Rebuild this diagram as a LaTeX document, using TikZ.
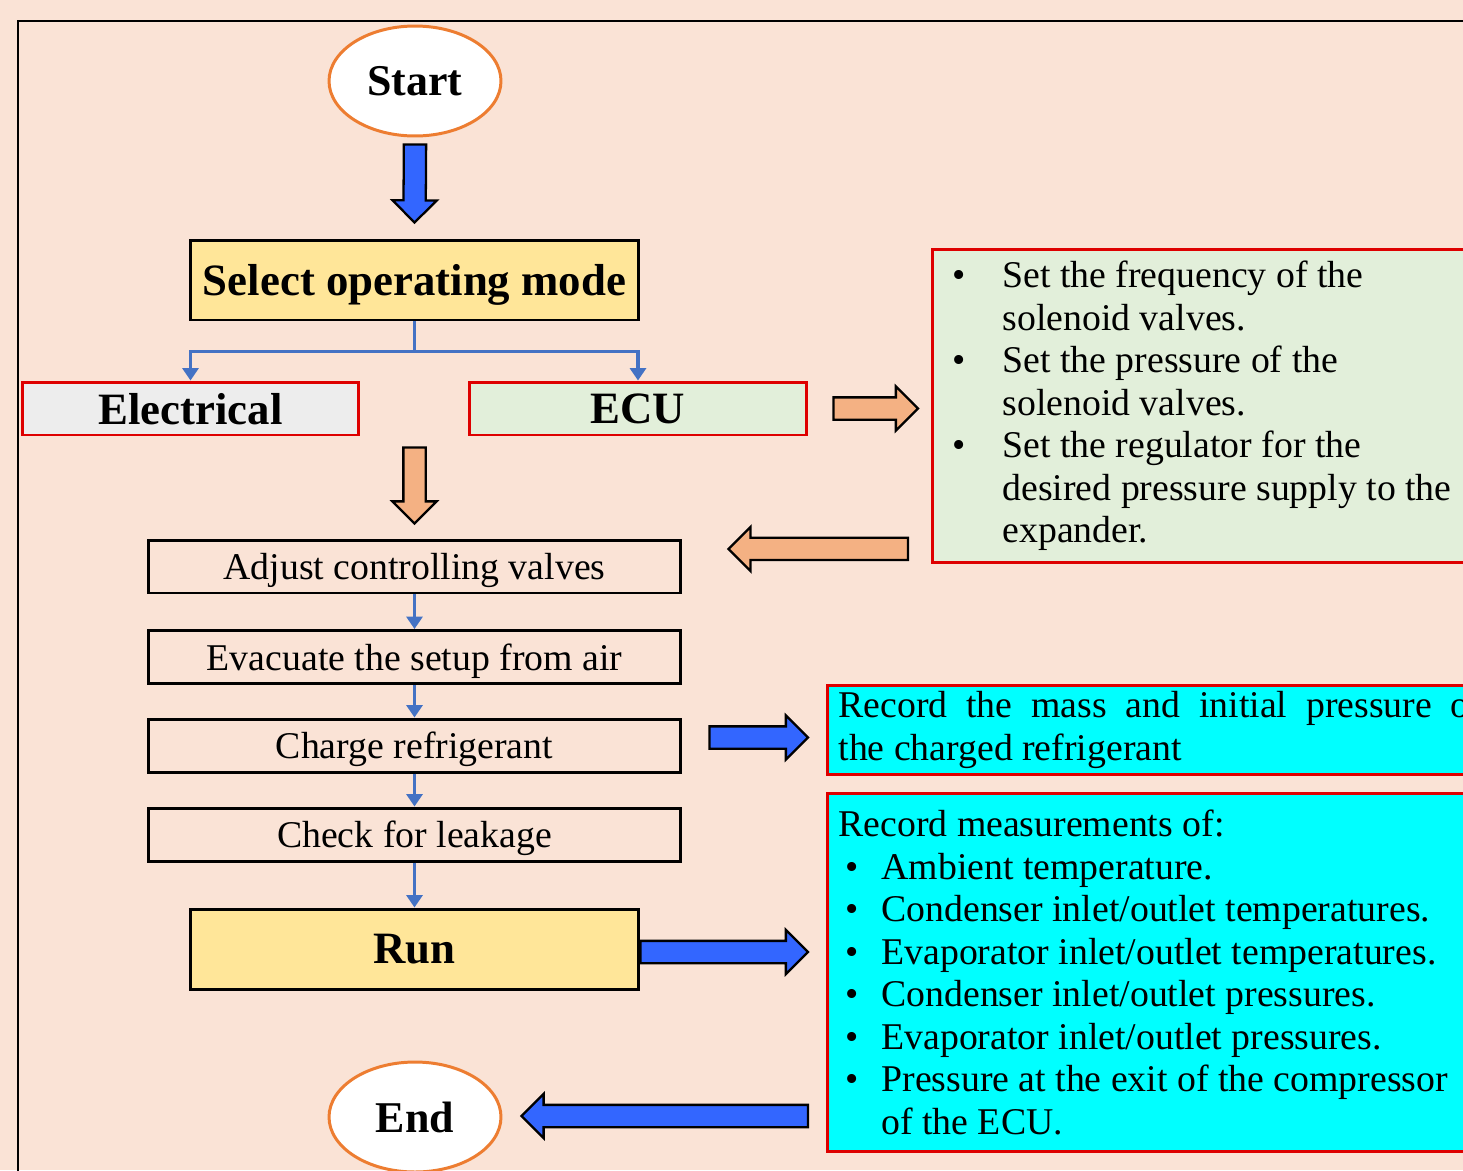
\documentclass[tikz,border=0pt]{standalone}
\usepackage{fontspec}
\setmainfont{Liberation Serif}
\usetikzlibrary{shapes.geometric,shapes.arrows,arrows.meta,calc}

\definecolor{peach}{RGB}{250,227,214}
\definecolor{termorange}{RGB}{237,125,49}
\definecolor{modeyellow}{RGB}{255,230,153}
\definecolor{boxred}{RGB}{222,0,0}
\definecolor{elecgray}{RGB}{237,237,237}
\definecolor{ecugreen}{RGB}{226,239,218}
\definecolor{recordcyan}{RGB}{0,255,255}
\definecolor{flowblue}{RGB}{68,114,196}
\definecolor{arrowblue}{RGB}{51,102,255}
\definecolor{arroworange}{RGB}{244,177,131}

\newcommand{\notespace}{\spaceskip=0.25em\relax}
\newcommand{\itembul}{\makebox[1cm][l]{\textbullet}}
\newcommand{\itemind}{\hspace*{1cm}}
\newcommand{\recbul}{\hspace*{0.14cm}\makebox[0.72cm][l]{\textbullet}}
\newcommand{\recind}{\hspace*{0.86cm}}
\newcommand{\blockarrow}[3]{%
  \path let \p1 = ($(#3)-(#2)$), \n1 = {veclen(\x1,\y1)} in
    (#2) -- (#3) node[pos = 0, sloped, allow upside down, bigarrow, anchor = tail, fill = #1, minimum height = \n1] {};
}

\begin{document}
\begin{tikzpicture}[x = 0.02cm, y = -0.02cm,
    font = \fontsize{21.5}{24.2}\selectfont,
    term/.style = {ellipse, draw = termorange, line width = 1.7pt, fill = white,
        minimum width = 3.44cm, minimum height = 2.2cm, inner sep = 0pt, text depth = 0pt,
        font = \fontsize{25}{28}\selectfont\bfseries},
    keybox/.style = {rectangle, draw = black, line width = 1.7pt, fill = modeyellow,
        minimum width = 8.98cm, minimum height = 1.6cm, text depth = 0pt,
        font = \fontsize{25.5}{28}\selectfont\bfseries},
    modebox/.style = {rectangle, draw = boxred, line width = 1.7pt,
        minimum width = 6.76cm, minimum height = 1.06cm, text depth = 0pt,
        font = \fontsize{25.5}{28}\selectfont\bfseries},
    stepbox/.style = {rectangle, draw = black, line width = 1.7pt, text depth = 0pt,
        minimum width = 10.66cm, minimum height = 1.06cm, inner sep = 0pt},
    notebox/.style = {rectangle, draw = boxred, line width = 1.7pt,
        anchor = north west, align = left},
    flow/.style = {draw = flowblue, line width = 2.2pt, -{Triangle[width = 9pt, length = 7pt]}},
    bigarrow/.style = {single arrow, draw = black, line width = 1.3pt, inner xsep = 0pt,
        inner ysep = 0.2cm, single arrow head extend = 0.22cm, outer sep = 0pt}]

    \useasboundingbox (0,0) rectangle (1463,1170);
    \fill[peach] (0,0) rectangle (1463,1170);
    \clip (0,0) rectangle (1463,1170);
    \draw[line width = 1.7pt] (18,1190) -- (18,21) -- (1490,21);

    \node[term] (start) at (415,81) {Start};
    \node[keybox] (mode) at (414.5,280) {Select operating mode};
    \node[modebox, fill = elecgray, minimum width = 6.74cm] (elec) at (190.5,408.5) {Electrical};
    \node[modebox, fill = ecugreen] (ecu) at (638,408.5) {ECU};
    \node[stepbox] (adjust) at (414.5,566.5) {Adjust controlling valves};
    \node[stepbox] (evac) at (414.5,657) {Evacuate the setup from air};
    \node[stepbox] (charge) at (414.5,745.5) {Charge refrigerant};
    \node[stepbox] (leak) at (414.5,834.5) {Check for leakage};
    \node[keybox] (run) at (414.5,949) {Run};
    \node[term] (end) at (415,1117) {End};

    \node[notebox, fill = ecugreen, text width = 10.6cm, inner xsep = 0.4cm,
        minimum height = 6.26cm] (settings) at (931,248) {\notespace
        \itembul Set the frequency of the\\
        \itemind solenoid valves.\\
        \itembul Set the pressure of the\\
        \itemind solenoid valves.\\
        \itembul Set the regulator for the\\
        \itemind desired pressure supply to the\\
        \itemind expander.};
    \node[notebox, fill = recordcyan, text width = 12.88cm, align = justify, inner xsep = 0.22cm,
        minimum height = 1.76cm] (record1) at (826,684)
        {Record the mass and initial pressure of\linebreak the charged refrigerant};
    \node[notebox, fill = recordcyan, text width = 13cm, inner xsep = 0.22cm,
        minimum height = 7.16cm] (record2) at (826,792) {\notespace
        Record measurements of:\\
        \recbul Ambient temperature.\\
        \recbul Condenser inlet/outlet temperatures.\\
        \recbul Evaporator inlet/outlet temperatures.\\
        \recbul Condenser inlet/outlet pressures.\\
        \recbul Evaporator inlet/outlet pressures.\\
        \recbul Pressure at the exit of the compressor\\
        \recind of the ECU.};

    \draw[flow, -] (mode.south) -- ++(0,30) coordinate (fork);
    \draw[flow] (fork) -| (elec.north);
    \draw[flow] (fork) -| (ecu.north);
    \draw[flow] (adjust) -- (evac);
    \draw[flow] (evac) -- (charge);
    \draw[flow] (charge) -- (leak);
    \draw[flow] (leak) -- (run);

    \coordinate (a1) at ($(start.south)+(0,7)$);
    \coordinate (b1) at ($(mode.north)+(0,-16)$);
    \coordinate (a2) at ($(mode.south |- ecu.south)+(0,11)$);
    \coordinate (b2) at ($(adjust.north)+(0,-15)$);
    \coordinate (a3) at ($(ecu.east)+(25,0)$);
    \coordinate (b3) at ($(settings.west |- ecu.east)+(-13,0)$);
    \coordinate (a4) at ($(settings.south west)+(-23,-15)$);
    \coordinate (b4) at ($(adjust.east |- a4)+(46,0)$);
    \coordinate (a5) at ($(charge.east)+(27,-8)$);
    \coordinate (b5) at ($(record1.west |- a5)+(-18,0)$);
    \coordinate (a6) at ($(run.east)+(0,3)$);
    \coordinate (b6) at ($(record2.west |- a6)+(-18,0)$);
    \coordinate (a7) at ($(record2.west |- end.east)+(-18,-1)$);
    \coordinate (b7) at ($(end.east)+(19,-1)$);

    \blockarrow{arrowblue}{a1}{b1}
    \blockarrow{arroworange}{a2}{b2}
    \blockarrow{arroworange}{a3}{b3}
    \blockarrow{arroworange}{a4}{b4}
    \blockarrow{arrowblue}{a5}{b5}
    \blockarrow{arrowblue}{a6}{b6}
    \blockarrow{arrowblue}{a7}{b7}
\end{tikzpicture}
\end{document}
